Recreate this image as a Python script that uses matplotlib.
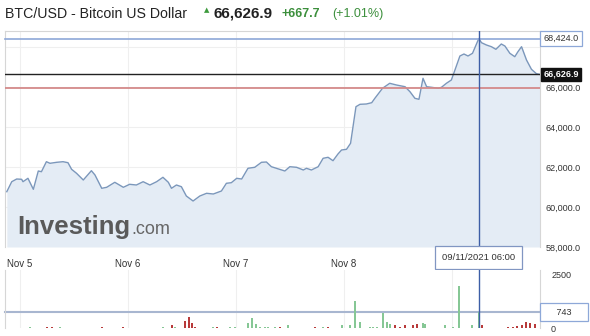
import matplotlib
matplotlib.use("Agg")
import matplotlib.pyplot as plt
import matplotlib.transforms as mtransforms

plt.rcParams['font.family'] = ['Liberation Sans', 'DejaVu Sans']

# price data, hours since Nov 5 00:00
price_hours = [-2.9, -1.8, -0.7, 0.4, 0.7, 1.8, 3.0, 4.1, 4.8, 5.9, 6.7, 8.2, 9.6, 10.7,
               11.5, 12.6, 14.1, 15.9, 16.7, 18.2, 19.3, 21.1, 23.0, 24.4, 25.9, 27.4,
               28.9, 30.4, 31.8, 33.0, 33.7, 34.8, 35.9, 37.0, 38.5, 40.0, 41.5, 43.0,
               44.8, 45.9, 47.0, 48.2, 49.3, 50.7, 52.2, 53.7, 54.8, 55.9, 58.9, 60.0,
               61.5, 63.0, 63.7, 64.8, 66.3, 67.4, 68.5, 69.6, 70.7, 71.5, 72.6, 73.5,
               74.7, 75.6, 77.0, 78.2, 78.9, 80.6, 82.2, 83.7, 85.6, 86.7, 87.8, 88.7,
               89.6, 90.4, 91.5, 93.0, 93.7, 94.8, 95.9, 96.7, 97.8, 98.7, 99.6, 100.6,
               102.0, 102.6, 103.7, 104.8, 105.8, 107.0, 107.8, 108.9, 110.0, 110.7,
               111.5, 112.6, 113.7, 114.8, 115.6]
prices = [60765, 61265, 61400, 61385, 61265, 61435, 60885, 61800, 61765, 62265, 62185,
          62235, 62265, 62215, 61885, 61685, 61350, 61815, 61600, 60935, 60985, 61235,
          60985, 61135, 61100, 61265, 61100, 61265, 61485, 61235, 60935, 61100, 61015,
          60550, 60300, 60550, 60685, 60650, 60800, 61185, 61215, 61435, 61400, 61935,
          61985, 62235, 62250, 62015, 61800, 62015, 61985, 61850, 61935, 61850, 62015,
          62435, 62485, 62315, 62650, 62850, 62885, 63185, 65015, 65135, 65150, 65215,
          65435, 65935, 66185, 66100, 66015, 65765, 65435, 65385, 66435, 66015, 65985,
          65935, 65985, 66185, 66350, 66850, 67550, 67650, 67550, 67685, 68424, 68215,
          68100, 68015, 67885, 68150, 68050, 67685, 67515, 67765, 68015, 67350, 66885,
          66665, 66626.9]

vol_hours = [2.2, 6.0, 7.1, 8.9, 18.2, 22.9, 31.8, 33.8, 34.4, 36.8, 37.6, 38.2, 38.9,
             42.9, 43.8, 46.7, 47.8, 50.7, 51.7, 52.4, 53.3, 54.4, 55.1, 56.7, 57.8,
             59.6, 65.6, 67.3, 68.4, 71.5, 73.3, 74.4, 75.6, 77.8, 78.4, 79.3, 80.6,
             81.5, 82.2, 83.3, 84.4, 85.6, 87.3, 88.2, 89.5, 90.0, 94.4, 96.2, 97.6,
             100.4, 102.0, 102.7, 108.4, 109.6, 110.4, 111.5, 112.4, 113.3, 114.4]
volumes = [40, 40, 40, 40, 40, 40, 40, 140, 40, 330, 520, 240, 50,
           40, 40, 40, 40, 240, 470, 190, 60, 40, 40, 40, 40,
           140, 40, 40, 50, 140, 120, 1275, 280, 40, 50, 40, 708,
           280, 190, 140, 40, 140, 140, 190, 240, 190, 140, 40, 1970,
           140, 743, 140, 40, 60, 90, 140, 280, 240, 190]
vol_up = [1, 0, 0, 1, 0, 0, 1, 0, 1, 0, 0, 0, 0,
          1, 0, 1, 1, 1, 1, 1, 1, 1, 1, 1, 0,
          1, 0, 1, 0, 1, 1, 1, 1, 1, 1, 1, 1,
          1, 1, 0, 0, 0, 0, 0, 1, 1, 1, 1, 1,
          1, 1, 0, 0, 0, 0, 0, 0, 0, 0]

day_hours = [0, 24, 48, 72]
day_labels = ['Nov 5', 'Nov 6', 'Nov 7', 'Nov 8']
price_ticks = [58000, 60000, 62000, 64000, 66000]

last_price = 66626.9
change = 667.7
change_pct = 1.01
prev_close = 65959.2
cross_hour = 102.0
cross_price = 68424.0
cross_volume = 743
cross_label = '09/11/2021 06:00'

W, H = 590, 336
fig = plt.figure(figsize=(W / 100, H / 100), dpi=100)


def box(x0, y0, x1, y1):
    # pixel box (top-left origin) -> figure fraction rect
    return [x0 / W, 1 - y1 / H, (x1 - x0) / W, (y1 - y0) / H]


ax = fig.add_axes(box(5, 31, 540, 247))
axv = fig.add_axes(box(5, 270, 540, 328))

xlim = (-3.3, 115.6)
line_col = '#7b97bb'
grid_col = '#efefef'

# main price panel
ax.plot(price_hours, prices, color=line_col, lw=1.0, zorder=3)
ax.fill_between(price_hours, prices, 58000, color='#e4ecf5', lw=0, zorder=2)
ax.set_xlim(*xlim)
ax.set_ylim(58000, 68800)
for h in day_hours + [96]:
    ax.axvline(h, color=grid_col, lw=0.8, zorder=1)
for p in range(58000, 69000, 2000):
    ax.axhline(p, color=grid_col, lw=0.8, zorder=1)

ax.axhline(cross_price, color='#8ea8d8', lw=1.2, zorder=4, clip_on=False)
ax.axhline(last_price, color='#222222', lw=1.0, zorder=4)
ax.axhline(prev_close, color='#d48a8a', lw=1.3, zorder=4)
ax.axvline(cross_hour, color='#3d5ea6', lw=1.0, zorder=5)

ax.yaxis.tick_right()
ax.set_yticks(price_ticks)
ax.set_yticklabels([f'{p:,.1f}' for p in price_ticks])
ax.tick_params(axis='y', length=0, pad=4, labelsize=6.5, labelcolor='#333333')
ax.set_xticks(day_hours)
ax.set_xticklabels(day_labels)
ax.tick_params(axis='x', length=0, pad=8.5, labelsize=7, labelcolor='#333333')
for s in ax.spines.values():
    s.set_color('#d6d6d6')
    s.set_linewidth(0.8)
ax.spines['bottom'].set_visible(False)

ytr = ax.get_yaxis_transform()
ax.text(1.0065, cross_price, f'{cross_price:,.1f}', transform=ytr, fontsize=6.5,
        color='#333333', va='center', ha='left', clip_on=False,
        bbox=dict(boxstyle='square,pad=0.35', fc='white', ec='#8ea8d8', lw=0.9))
ax.text(1.0065, last_price, f'{last_price:,.1f}', transform=ytr, fontsize=6.5,
        color='white', weight='bold', va='center', ha='left', clip_on=False,
        bbox=dict(boxstyle='square,pad=0.25', fc='#111111', ec='#111111'))

xtr = mtransforms.blended_transform_factory(ax.transData, ax.transAxes)
ax.text(cross_hour, -0.048, cross_label, transform=xtr, fontsize=6.8, color='#333333',
        ha='center', va='center', clip_on=False, zorder=10,
        bbox=dict(boxstyle='square,pad=0.75', fc='white', ec='#8196c2', lw=0.9))

# logo
logo = ax.text(0.022, 0.062, 'Investing', transform=ax.transAxes, fontsize=18.5,
               weight='bold', color='#5a5a5a', va='baseline', ha='left', zorder=6)
fig.canvas.draw()
ext = logo.get_window_extent()
logo_x = ax.transAxes.inverted().transform((ext.x1 + 1, 0))[0]
ax.text(logo_x, 0.062, '.com', transform=ax.transAxes, fontsize=13,
        color='#666666', va='baseline', ha='left', zorder=6)

# volume panel
cols = ['#86c795' if u else '#b83a3a' for u in vol_up]
axv.bar(vol_hours, volumes, width=0.45, color=cols, lw=0, zorder=3)
axv.set_xlim(*xlim)
axv.set_ylim(0, 2700)
for h in day_hours + [96]:
    axv.axvline(h, color=grid_col, lw=0.8, zorder=1)
axv.axhline(cross_volume, color='#a8b6d0', lw=1.5, zorder=2, clip_on=False)
axv.axvline(cross_hour, color='#3d5ea6', lw=1.0, zorder=4)
axv.set_xticks([])
axv.yaxis.tick_right()
axv.set_yticks([0, 2500])
axv.set_yticklabels(['0', '2500'])
axv.tick_params(axis='y', length=0, pad=8, labelsize=6.5, labelcolor='#333333')
for s in axv.spines.values():
    s.set_visible(False)
axv.spines['left'].set_visible(True)
axv.spines['left'].set_color('#d6d6d6')
axv.spines['right'].set_visible(True)
axv.spines['right'].set_color('#d6d6d6')
ytv = axv.get_yaxis_transform()
axv.text(1.0075, cross_volume, f'     {cross_volume}     ', transform=ytv, fontsize=6.5,
         color='#333333', va='center', ha='left', clip_on=False,
         bbox=dict(boxstyle='square,pad=0.45', fc='white', ec='#8ea8d8', lw=0.9))

# header
fig.text(5 / W, 1 - 14 / H, 'BTC/USD - Bitcoin US Dollar', fontsize=10.2,
         color='#222222', va='center', ha='left')
fig.text(204 / W, 1 - 10 / H, '\u25b2', fontsize=5, color='#3c9a3c',
         va='center', ha='left', family='DejaVu Sans')
fig.text(213 / W, 1 - 14 / H, f'{last_price:,.1f}', fontsize=11, weight='bold',
         color='#222222', va='center', ha='left')
fig.text(282 / W, 1 - 14 / H, f'+{change:,.1f}', fontsize=9, weight='bold',
         color='#3c8f3c', va='center', ha='left')
fig.text(332 / W, 1 - 14 / H, f'(+{change_pct:.2f}%)', fontsize=9,
         color='#3c8f3c', va='center', ha='left')

fig.savefig('out.png', dpi=100)
